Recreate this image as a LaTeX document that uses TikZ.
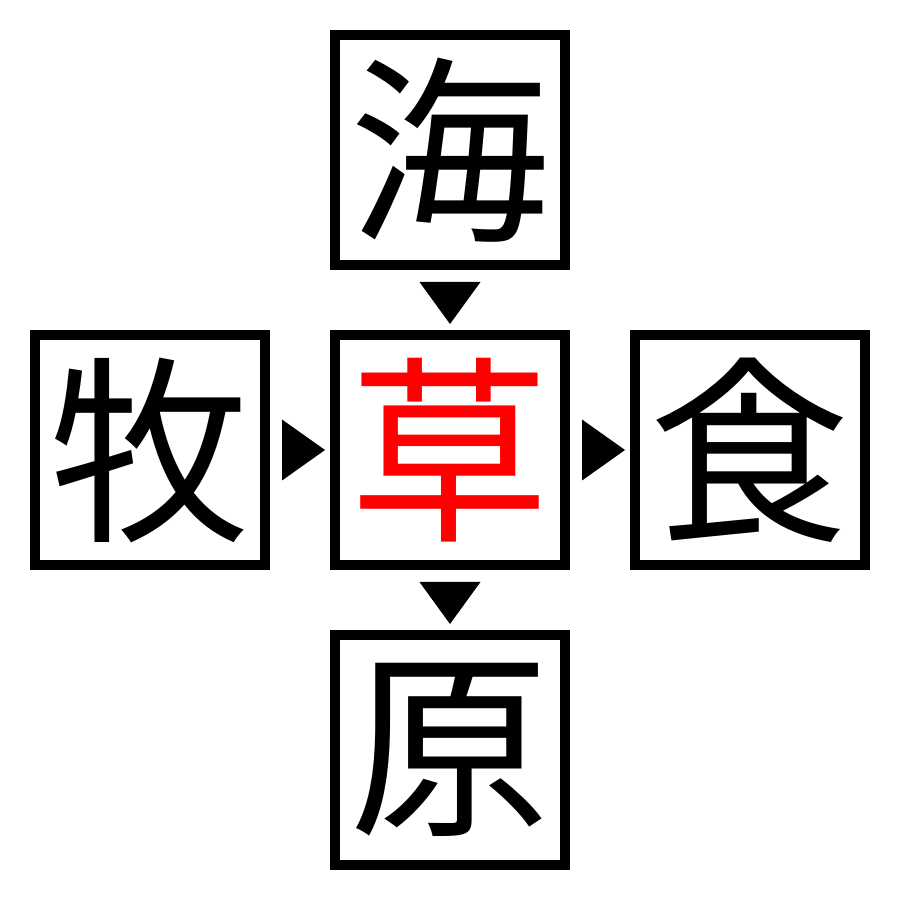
\documentclass[tikz,border=0pt]{standalone}
\usepackage{fontspec}
\newfontfamily\cjk{Noto Sans CJK JP}
\usepackage{tikz}
\usetikzlibrary{calc}

\begin{document}
\begin{tikzpicture}[kanji/.style={draw, line width=0.1cm, outer sep=0.05cm, inner sep=0, minimum size=2.3cm, font=\cjk\fontsize{57}{57}\selectfont}]

\useasboundingbox (0, 0) rectangle (9, 9);

\node[kanji] (umi) at (4.5, 7.5) {海};
\node[kanji] (maki) at (1.5, 4.5) {牧};
\node[kanji, text=red] (kusa) at (4.5, 4.5) {草};
\node[kanji] (shoku) at (7.5, 4.5) {食};
\node[kanji] (hara) at (4.5, 1.5) {原};

\fill ($(umi.south)+(-0.305, -0.12)$) -- ($(umi.south)+(0.305, -0.12)$) -- ($(kusa.north)+(0, 0.06)$) -- cycle;
\fill ($(maki.east)+(0.12, 0.305)$) -- ($(maki.east)+(0.12, -0.305)$) -- ($(kusa.west)+(-0.05, 0)$) -- cycle;
\fill ($(kusa.east)+(0.12, 0.305)$) -- ($(kusa.east)+(0.12, -0.305)$) -- ($(shoku.west)+(-0.05, 0)$) -- cycle;
\fill ($(kusa.south)+(-0.305, -0.12)$) -- ($(kusa.south)+(0.305, -0.12)$) -- ($(hara.north)+(0, 0.06)$) -- cycle;

\end{tikzpicture}
\end{document}
